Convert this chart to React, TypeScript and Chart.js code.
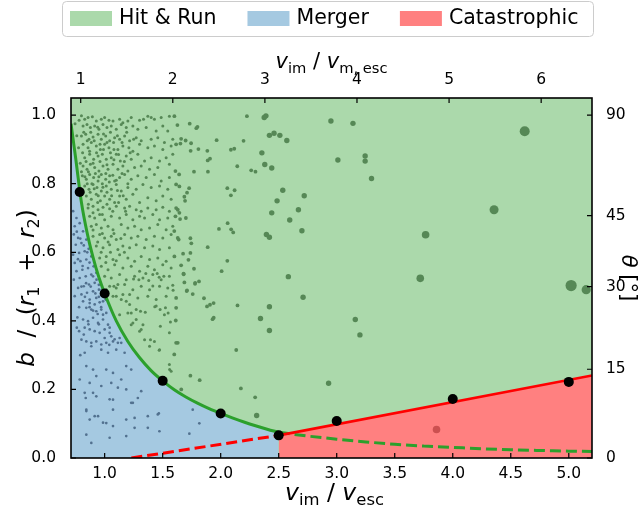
import { useEffect, useRef } from "react";
import { Chart, registerables } from "chart.js";
Chart.register(...registerables);

const FONT = "'DejaVu Sans', sans-serif";

// ---------------- data ----------------
const xLimits = [0.71, 5.2];
const yLimits = [0, 1.05];
const topAxisRatio = 1.26; // v_im / v_m,esc  per  v_im / v_esc

const bottomTicks = [1.0, 1.5, 2.0, 2.5, 3.0, 3.5, 4.0, 4.5, 5.0];
const topTicks = [1, 2, 3, 4, 5, 6];
const leftTicks = [0, 0.2, 0.4, 0.6, 0.8, 1.0];
const thetaTicksDeg = [0, 15, 30, 45, 90];

const legendLabels = ["Hit & Run", "Merger", "Catastrophic"];

// Hit & run / merger boundary (solid) and its continuation (dashed)
const boundaryX = [0.71, 0.75, 0.8, 0.85, 0.9, 0.95, 1.0, 1.1, 1.2, 1.3, 1.4, 1.5, 1.6, 1.7, 1.8, 1.9, 2.0, 2.1, 2.2, 2.3, 2.4, 2.5];
const boundaryY = [0.975, 0.875, 0.745, 0.655, 0.585, 0.527, 0.48, 0.40, 0.34, 0.293, 0.255, 0.225, 0.199, 0.178, 0.16, 0.144, 0.13, 0.117, 0.105, 0.094, 0.084, 0.075];
const boundaryExtX = [2.5, 2.75, 3.0, 3.25, 3.5, 3.75, 4.0, 4.25, 4.5, 4.75, 5.0, 5.2];
const boundaryExtY = [0.075, 0.064, 0.055, 0.047, 0.040, 0.035, 0.031, 0.027, 0.024, 0.022, 0.020, 0.019];

// Catastrophic boundary (solid) and its continuation (dashed)
const catLineX = [2.5, 5.2];
const catLineY = [0.066, 0.2405];
const catExtX = [1.23, 2.5];
const catExtY = [0.0, 0.066];

// simulation points on the boundaries
const simX = [0.785, 1.0, 1.5, 2.0, 2.5, 3.0, 4.0, 5.0];
const simY = [0.776, 0.48, 0.225, 0.13, 0.066, 0.108, 0.172, 0.222];

// scattered impacts
const mergerPoints = [
  [0.728, 0.72], [0.757, 0.70], [0.742, 0.676], [0.785, 0.685], [0.734, 0.652], [0.771, 0.642], [0.814, 0.661],
  [0.751, 0.622], [0.80, 0.627], [0.842, 0.637], [0.728, 0.593], [0.78, 0.598], [0.828, 0.603], [0.862, 0.61],
  [0.742, 0.569], [0.791, 0.574], [0.842, 0.579], [0.885, 0.588], [0.757, 0.545], [0.808, 0.549], [0.857, 0.554],
  [0.905, 0.559], [0.734, 0.52], [0.785, 0.525], [0.837, 0.53], [0.885, 0.535], [0.928, 0.54], [0.771, 0.496],
  [0.82, 0.501], [0.865, 0.506], [0.914, 0.511], [0.95, 0.505], [0.742, 0.472], [0.80, 0.477], [0.848, 0.482],
  [0.90, 0.486], [0.951, 0.491], [0.975, 0.49], [0.814, 0.457], [0.871, 0.462], [0.928, 0.467], [0.986, 0.457],
  [1.009, 0.462], [0.871, 0.452], [0.914, 0.448], [0.957, 0.454], [0.842, 0.438], [0.885, 0.433], [0.928, 0.428],
  [0.971, 0.433], [0.986, 0.418], [1.014, 0.423], [0.814, 0.404], [0.857, 0.399], [0.90, 0.409], [0.943, 0.394],
  [0.986, 0.404], [1.029, 0.389], [0.828, 0.38], [0.871, 0.375], [0.914, 0.37], [0.957, 0.365], [1.0, 0.375],
  [1.043, 0.38], [1.057, 0.355], [0.80, 0.345], [0.842, 0.34], [0.885, 0.336], [0.928, 0.34], [0.971, 0.331],
  [1.014, 0.336], [1.072, 0.34], [1.114, 0.336], [1.129, 0.35], [1.086, 0.346], [1.143, 0.336], [1.043, 0.365],
  [0.885, 0.326], [0.971, 0.316], [1.029, 0.307], [1.10, 0.316], [1.172, 0.307], [1.186, 0.268], [0.828, 0.307],
  [0.842, 0.268], [0.90, 0.258], [0.928, 0.239], [1.014, 0.258], [1.072, 0.248], [1.143, 0.229], [1.229, 0.258],
  [0.785, 0.229], [0.871, 0.219], [0.971, 0.21], [1.057, 0.219], [1.186, 0.20], [0.828, 0.19], [0.928, 0.18],
  [1.043, 0.171], [1.229, 0.161], [0.842, 0.141], [0.914, 0.122], [0.986, 0.103], [1.072, 0.141], [1.186, 0.112],
  [1.286, 0.175], [1.372, 0.122], [1.467, 0.13], [1.472, 0.078], [1.258, 0.088], [1.73, 0.071], [1.816, 0.101],
  [1.759, 0.141], [1.043, 0.059], [0.885, 0.044], [1.186, 0.064], [0.837, 0.175], [0.90, 0.19], [0.842, 0.137],
  [0.871, 0.112], [0.842, 0.068], [0.943, 0.122], [1.014, 0.102], [1.072, 0.093], [1.243, 0.161], [1.258, 0.117],
  [1.372, 0.088], [1.458, 0.127], [1.114, 0.205], [1.072, 0.17], [1.315, 0.195], [0.765, 0.41], [0.78, 0.37],
  [0.79, 0.30], [0.76, 0.66], [0.79, 0.64], [0.82, 0.62], [0.77, 0.58], [0.81, 0.56], [0.85, 0.6], [0.87, 0.57],
  [0.9, 0.53], [0.93, 0.52], [0.8, 0.5], [0.84, 0.51], [0.88, 0.5], [0.92, 0.48], [0.95, 0.47], [0.78, 0.44],
  [0.83, 0.47], [0.87, 0.44], [0.9, 0.43], [0.94, 0.42], [0.97, 0.44], [0.76, 0.38], [0.82, 0.36], [0.86, 0.39],
  [0.95, 0.39], [1.0, 0.35], [1.04, 0.33],
];

const hitRunDense = [
  [0.80, 0.998], [0.828, 0.988], [0.857, 0.993], [0.894, 0.995], [0.928, 0.983], [0.971, 0.988], [1.0, 0.993],
  [1.037, 0.985], [1.072, 0.983], [1.129, 0.988], [1.157, 0.978], [1.20, 0.983], [1.229, 0.993], [1.301, 0.985],
  [1.335, 0.988], [1.372, 0.997], [1.401, 0.993], [1.429, 0.988], [1.487, 0.993], [1.558, 0.997],
  [0.814, 0.968], [0.848, 0.973], [0.877, 0.964], [0.914, 0.968], [0.951, 0.959], [0.986, 0.973], [1.02, 0.964],
  [1.057, 0.968], [1.10, 0.959], [1.143, 0.973], [1.186, 0.964], [1.243, 0.968], [1.286, 0.959], [1.358, 0.964],
  [1.444, 0.954], [1.501, 0.968], [1.544, 0.954],
  [0.80, 0.939], [0.837, 0.944], [0.865, 0.93], [0.90, 0.936], [0.943, 0.944], [0.971, 0.93], [1.009, 0.939],
  [1.043, 0.925], [1.086, 0.934], [1.129, 0.93], [1.172, 0.939], [1.215, 0.925], [1.272, 0.934], [1.315, 0.925],
  [1.401, 0.93], [1.458, 0.934], [1.515, 0.92], [1.587, 0.93],
  [0.814, 0.915], [0.857, 0.905], [0.885, 0.92], [0.928, 0.91], [0.963, 0.90], [1.0, 0.915], [1.037, 0.905],
  [1.077, 0.92], [1.114, 0.90], [1.157, 0.91], [1.209, 0.905], [1.243, 0.895], [1.301, 0.915], [1.372, 0.905],
  [1.429, 0.91], [1.501, 0.90], [1.573, 0.91],
  [0.828, 0.876], [0.871, 0.886], [0.905, 0.871], [0.943, 0.881], [0.98, 0.886], [1.014, 0.871], [1.057, 0.876],
  [1.10, 0.886], [1.135, 0.866], [1.186, 0.881], [1.229, 0.871], [1.286, 0.886], [1.344, 0.866], [1.401, 0.876],
  [1.473, 0.866], [1.53, 0.876], [1.587, 0.886],
  [0.814, 0.852], [0.848, 0.842], [0.877, 0.857], [0.914, 0.847], [0.951, 0.837], [0.986, 0.852], [1.029, 0.842],
  [1.072, 0.857], [1.114, 0.842], [1.157, 0.852], [1.20, 0.837], [1.258, 0.847], [1.315, 0.852], [1.387, 0.842],
  [1.458, 0.847], [1.558, 0.857],
  [0.808, 0.823], [0.842, 0.813], [0.871, 0.827], [0.905, 0.818], [0.943, 0.808], [0.971, 0.827], [1.009, 0.813],
  [1.043, 0.823], [1.086, 0.808], [1.129, 0.818], [1.172, 0.827], [1.229, 0.813], [1.286, 0.823], [1.358, 0.818],
  [1.429, 0.827], [1.487, 0.808], [1.558, 0.818],
  [0.828, 0.793], [0.865, 0.784], [0.90, 0.798], [0.934, 0.789], [0.971, 0.779], [1.014, 0.793], [1.057, 0.784],
  [1.10, 0.798], [1.143, 0.779], [1.20, 0.789], [1.272, 0.784], [1.33, 0.798], [1.401, 0.789], [1.473, 0.793],
  [1.544, 0.784],
  [0.842, 0.764], [0.885, 0.755], [0.928, 0.769], [0.963, 0.75], [1.0, 0.764], [1.043, 0.755], [1.086, 0.745],
  [1.129, 0.764], [1.186, 0.755], [1.243, 0.769], [1.301, 0.745], [1.372, 0.759], [1.444, 0.75], [1.501, 0.764],
  [1.573, 0.755],
  [0.745, 0.975], [0.76, 0.94], [0.775, 0.905], [0.78, 0.985], [0.79, 0.86],
  [0.857, 0.729], [0.90, 0.734], [0.943, 0.724], [0.986, 0.731], [1.043, 0.727], [1.10, 0.734], [1.172, 0.729],
  [1.215, 0.734], [1.272, 0.724], [1.315, 0.72], [1.372, 0.729], [1.444, 0.724], [1.501, 0.731], [1.558, 0.72],
  [0.871, 0.705], [0.914, 0.70], [0.957, 0.71], [1.0, 0.695], [1.057, 0.705], [1.129, 0.70], [1.186, 0.71],
  [1.243, 0.695], [1.301, 0.705], [1.344, 0.70], [1.415, 0.71], [1.473, 0.695], [1.544, 0.70],
  [0.885, 0.676], [0.928, 0.681], [0.971, 0.671], [1.029, 0.676], [1.072, 0.666], [1.143, 0.681], [1.20, 0.671],
  [1.258, 0.676], [1.315, 0.666], [1.387, 0.671], [1.458, 0.681], [1.53, 0.666], [1.587, 0.676],
  [0.90, 0.647], [0.957, 0.652], [1.0, 0.642], [1.057, 0.647], [1.10, 0.637], [1.172, 0.652], [1.229, 0.642],
  [1.286, 0.647], [1.358, 0.637], [1.429, 0.647], [1.501, 0.642], [1.573, 0.652],
  [0.928, 0.618], [0.986, 0.613], [1.043, 0.622], [1.114, 0.608], [1.157, 0.618], [1.215, 0.613], [1.272, 0.622],
  [1.344, 0.613], [1.415, 0.618], [1.473, 0.608], [1.558, 0.613],
  [0.957, 0.583], [1.014, 0.588], [1.072, 0.579], [1.129, 0.593], [1.20, 0.583], [1.258, 0.574], [1.315, 0.588],
  [1.387, 0.579], [1.458, 0.583], [1.53, 0.574],
  [0.971, 0.559], [1.029, 0.549], [1.086, 0.564], [1.157, 0.554], [1.229, 0.559], [1.301, 0.545], [1.372, 0.559],
  [1.429, 0.549], [1.501, 0.564], [1.573, 0.554],
  [1.0, 0.53], [1.057, 0.525], [1.129, 0.535], [1.186, 0.52], [1.258, 0.53], [1.33, 0.525], [1.415, 0.535],
  [1.487, 0.52], [1.558, 0.53],
  [1.043, 0.501], [1.10, 0.496], [1.172, 0.506], [1.243, 0.491], [1.315, 0.501], [1.387, 0.491], [1.473, 0.501],
  [1.544, 0.496],
  [1.072, 0.472], [1.143, 0.462], [1.215, 0.477], [1.286, 0.467], [1.372, 0.472], [1.444, 0.462], [1.53, 0.472],
  [1.08, 0.501], [1.114, 0.506], [1.015, 0.491], [1.10, 0.472], [1.157, 0.477], [1.186, 0.457], [1.215, 0.448],
  [1.229, 0.423], [1.272, 0.404], [1.315, 0.375], [1.243, 0.394], [1.344, 0.345], [1.387, 0.326],
  [1.295, 0.52], [1.249, 0.522], [1.38, 0.518], [1.415, 0.502], [1.47, 0.527], [1.51, 0.53], [1.587, 0.504],
  [1.59, 0.489], [1.355, 0.538], [1.453, 0.538], [1.524, 0.438], [1.478, 0.433], [1.432, 0.441], [1.309, 0.428],
  [1.35, 0.425], [1.547, 0.423], [1.567, 0.397], [1.48, 0.384], [1.47, 0.314], [1.395, 0.345], [1.558, 0.273],
  [1.56, 0.258], [1.129, 0.418], [1.20, 0.423], [1.272, 0.433], [1.33, 0.389], [1.444, 0.443], [1.515, 0.418],
  [1.229, 0.389], [1.301, 0.37], [1.429, 0.34], [1.473, 0.316], [1.558, 0.365], [1.573, 0.253],
  [0.82, 0.95], [0.85, 0.925], [0.88, 0.95], [0.91, 0.925], [0.94, 0.965], [0.96, 0.915], [0.99, 0.945],
  [1.02, 0.92], [1.05, 0.95], [1.08, 0.9], [1.11, 0.94], [1.15, 0.92], [1.19, 0.95], [1.25, 0.93],
  [0.81, 0.89], [0.84, 0.865], [0.87, 0.895], [0.9, 0.86], [0.93, 0.89], [0.96, 0.865], [0.99, 0.9],
  [1.02, 0.855], [1.05, 0.89], [1.08, 0.87], [1.12, 0.885], [1.17, 0.865], [1.22, 0.89],
  [0.8, 0.835], [0.83, 0.82], [0.86, 0.835], [0.89, 0.80], [0.92, 0.83], [0.95, 0.82], [0.98, 0.80],
  [1.01, 0.83], [1.04, 0.805], [1.07, 0.825], [1.1, 0.81], [1.15, 0.83], [1.2, 0.8],
  [0.815, 0.775], [0.85, 0.8], [0.875, 0.775], [0.91, 0.785], [0.945, 0.765], [0.985, 0.79], [1.02, 0.775],
  [1.06, 0.765], [1.11, 0.78], [1.16, 0.765],
  [0.86, 0.74], [0.9, 0.715], [0.94, 0.745], [0.98, 0.71], [1.02, 0.74], [1.07, 0.72], [1.12, 0.745], [1.18, 0.72],
  [0.9, 0.665], [0.94, 0.63], [0.98, 0.655], [1.03, 0.63], [1.08, 0.655], [1.14, 0.64],
  [0.97, 0.6], [1.01, 0.57], [1.05, 0.6], [1.1, 0.575], [1.17, 0.6],
];

const hitRunMid = [
  [1.601, 0.997], [1.616, 0.915], [1.61, 0.837], [1.616, 0.798], [1.616, 0.729], [1.61, 0.705], [1.63, 0.642],
  [1.601, 0.588], [1.616, 0.467], [1.616, 0.438], [1.63, 0.336], [1.613, 0.401], [1.616, 0.336], [1.60, 0.302],
  [2.226, 0.997], [1.627, 0.971], [1.733, 0.975], [1.79, 0.962], [1.80, 0.966], [1.965, 0.927], [2.197, 0.925],
  [1.659, 0.931], [1.698, 0.926], [1.653, 0.917], [1.745, 0.918], [1.808, 0.901], [1.741, 0.896], [1.885, 0.896],
  [2.088, 0.899], [2.117, 0.902], [1.888, 0.868], [1.908, 0.873], [2.143, 0.851], [1.77, 0.835], [1.89, 0.835],
  [1.642, 0.827], [2.263, 0.839], [2.30, 0.835], [2.057, 0.787], [2.12, 0.781], [2.088, 0.766], [1.644, 0.792],
  [1.728, 0.787], [1.71, 0.774], [1.687, 0.762], [1.693, 0.75], [1.63, 0.724], [1.644, 0.715], [1.65, 0.697],
  [1.70, 0.70], [2.06, 0.685], [1.985, 0.668], [2.09, 0.667], [2.108, 0.658], [1.60, 0.662], [1.638, 0.637],
  [1.739, 0.641], [1.747, 0.626], [1.888, 0.615], [1.676, 0.596], [1.739, 0.598], [1.722, 0.578], [2.057, 0.575],
  [2.008, 0.545], [1.659, 0.562], [1.681, 0.536], [1.77, 0.552], [1.813, 0.515], [1.779, 0.508], [1.707, 0.487],
  [1.759, 0.478], [1.856, 0.466], [1.939, 0.452], [1.908, 0.447], [1.882, 0.442], [2.145, 0.445], [1.687, 0.512],
  [1.71, 0.489], [1.78, 0.511], [1.68, 0.538], [1.94, 0.409], [1.93, 0.405], [2.134, 0.315], [2.174, 0.203],
  [2.297, 0.177], [1.819, 0.227], [1.739, 0.24], [1.66, 0.2],
];

const hitRunSparse = [
  [2.375, 0.993], [2.39, 0.998], [2.355, 0.89], [2.38, 0.856], [2.394, 0.652], [2.42, 0.644], [2.42, 0.441],
  [2.42, 0.372], [2.343, 0.407], [2.42, 0.941], [2.46, 0.947], [2.51, 0.941], [2.57, 0.926], [2.44, 0.846],
  [2.535, 0.781], [2.486, 0.75], [2.72, 0.765], [2.44, 0.715], [2.67, 0.724], [2.595, 0.694], [2.70, 0.663],
  [2.583, 0.529], [2.71, 0.469], [3.16, 0.404], [3.20, 0.359], [2.93, 0.218], [2.95, 0.983], [3.14, 0.976],
  [3.01, 0.869], [3.245, 0.881], [3.245, 0.866], [3.30, 0.815], [2.31, 0.124],
];

const hitRunLarge = [[4.62, 0.953], [4.356, 0.724], [3.766, 0.651], [3.72, 0.524], [5.02, 0.503], [5.15, 0.491]];
const hitRunLargeRadius = [5, 4.5, 3.8, 3.8, 5.6, 4.6];

const catastrophicPoints = [[3.86, 0.083]];

// ---------------- styles ----------------
const HR_BG = "#abd9ab";
const MERGER_BG = "#a5c9e1";
const CAT_BG = "#ff8080";
const GREEN_LINE = "#2ca02c";
const RED_LINE = "#ff0000";
const HR_DOT = "#568856";
const MERGER_DOT = "#52718f";
const CAT_DOT = "#cc5050";

const xy = (xs: number[], ys: number[]) => xs.map((x, i) => ({ x, y: ys[i] }));
const pts = (arr: number[][]) => arr.map(([x, y]) => ({ x, y }));

type Seg = { t: string; it?: boolean; sub?: boolean };

function drawMath(ctx: CanvasRenderingContext2D, segs: Seg[], size: number, x: number, y: number, rot: number) {
  ctx.save();
  ctx.translate(x, y);
  ctx.rotate(rot);
  ctx.fillStyle = "#000";
  ctx.textBaseline = "alphabetic";
  ctx.textAlign = "left";
  const fontOf = (s: Seg) => `${s.it ? "italic " : ""}${s.sub ? size * 0.7 : size}px ${FONT}`;
  const widths = segs.map((s) => {
    ctx.font = fontOf(s);
    return ctx.measureText(s.t).width;
  });
  const total = widths.reduce((a, b) => a + b, 0);
  let cx = -total / 2;
  segs.forEach((s, i) => {
    ctx.font = fontOf(s);
    ctx.fillText(s.t, cx, s.sub ? size * 0.22 : 0);
    cx += widths[i];
  });
  ctx.restore();
}

const overlayPlugin = {
  id: "overlay",
  beforeDatasetsDraw(chart: any) {
    const { ctx, chartArea: a } = chart;
    ctx.save();
    ctx.fillStyle = HR_BG;
    ctx.fillRect(a.left, a.top, a.right - a.left, a.bottom - a.top);
    ctx.restore();
  },
  afterDatasetsDraw(chart: any) {
    const { ctx, chartArea: a, scales } = chart;
    ctx.save();
    ctx.strokeStyle = "#000";
    ctx.lineWidth = 1.2;
    const tl = 5;
    ctx.beginPath();
    scales.x.ticks.forEach((t: any) => {
      const p = scales.x.getPixelForValue(t.value);
      ctx.moveTo(p, a.bottom);
      ctx.lineTo(p, a.bottom - tl);
    });
    scales.x2.ticks.forEach((t: any) => {
      const p = scales.x2.getPixelForValue(t.value);
      ctx.moveTo(p, a.top);
      ctx.lineTo(p, a.top + tl);
    });
    scales.y.ticks.forEach((t: any) => {
      const p = scales.y.getPixelForValue(t.value);
      ctx.moveTo(a.left, p);
      ctx.lineTo(a.left + tl, p);
    });
    scales.y2.ticks.forEach((t: any) => {
      const p = scales.y2.getPixelForValue(t.value);
      ctx.moveTo(a.right, p);
      ctx.lineTo(a.right - tl, p);
    });
    ctx.stroke();
    ctx.lineWidth = 1.6;
    ctx.strokeRect(a.left, a.top, a.right - a.left, a.bottom - a.top);
    ctx.restore();
  },
  afterDraw(chart: any) {
    const { ctx, chartArea: a } = chart;
    const cx = (a.left + a.right) / 2;
    const cy = (a.top + a.bottom) / 2;
    drawMath(ctx, [{ t: "v", it: true }, { t: "im", sub: true }, { t: " / " }, { t: "v", it: true }, { t: "esc", sub: true }], 23.5, cx + 3, 500, 0);
    drawMath(ctx, [{ t: "v", it: true }, { t: "im", sub: true }, { t: " / " }, { t: "v", it: true }, { t: "m, esc", sub: true }], 21, cx, 68, 0);
    drawMath(
      ctx,
      [{ t: "b", it: true }, { t: "  /  (" }, { t: "r", it: true }, { t: "1", sub: true }, { t: "  +  " }, { t: "r", it: true }, { t: "2", sub: true }, { t: ")" }],
      23, 34, cy + 10, -Math.PI / 2
    );
    drawMath(ctx, [{ t: "θ", it: true }, { t: " [°]" }], 21, 622, cy, Math.PI / 2);

    // legend
    ctx.save();
    ctx.beginPath();
    (ctx as any).roundRect(62.5, 1.5, 531, 35, 4);
    ctx.fillStyle = "rgba(255,255,255,0.8)";
    ctx.fill();
    ctx.strokeStyle = "#cccccc";
    ctx.lineWidth = 1;
    ctx.stroke();
    const colors = [HR_BG, MERGER_BG, CAT_BG];
    ctx.font = `20.5px ${FONT}`;
    ctx.textBaseline = "middle";
    ctx.textAlign = "left";
    let sx = 70;
    legendLabels.forEach((lab, i) => {
      ctx.fillStyle = colors[i];
      ctx.fillRect(sx, 11, 42, 15);
      ctx.fillStyle = "#000";
      ctx.fillText(lab, sx + 49, 19);
      sx = sx + 49 + ctx.measureText(lab).width + 31;
    });
    ctx.restore();
  },
};

export default function App() {
  const ref = useRef<HTMLCanvasElement | null>(null);
  useEffect(() => {
    if (!ref.current) return;
    const tickFont = { family: FONT, size: 15.5 };
    const chart = new Chart(ref.current, {
      type: "scatter",
      data: {
        datasets: [
          { type: "line", data: xy(boundaryX, boundaryY), borderColor: "transparent", borderWidth: 0, pointRadius: 0, fill: "origin", backgroundColor: MERGER_BG, cubicInterpolationMode: "monotone", order: 20 } as any,
          { type: "line", data: xy(catLineX, catLineY), borderColor: "transparent", borderWidth: 0, pointRadius: 0, fill: "origin", backgroundColor: CAT_BG, order: 19 } as any,
          { data: pts(mergerPoints), pointRadius: 1.35, pointBackgroundColor: MERGER_DOT, pointBorderWidth: 0, order: 15 },
          { data: pts(hitRunDense), pointRadius: 1.5, pointBackgroundColor: HR_DOT, pointBorderWidth: 0, order: 14 },
          { data: pts(hitRunMid), pointRadius: 1.9, pointBackgroundColor: HR_DOT, pointBorderWidth: 0, order: 14 },
          { data: pts(hitRunSparse), pointRadius: 2.7, pointBackgroundColor: HR_DOT, pointBorderWidth: 0, order: 14 },
          { data: pts(hitRunLarge), pointRadius: hitRunLargeRadius, pointBackgroundColor: HR_DOT, pointBorderWidth: 0, order: 14 },
          { data: pts(catastrophicPoints), pointRadius: 3.8, pointBackgroundColor: CAT_DOT, pointBorderWidth: 0, order: 14 },
          { type: "line", data: xy(boundaryExtX, boundaryExtY), borderColor: GREEN_LINE, borderWidth: 3, borderDash: [11, 5], pointRadius: 0, fill: false, cubicInterpolationMode: "monotone", order: 6 } as any,
          { type: "line", data: xy(catExtX, catExtY), borderColor: RED_LINE, borderWidth: 3, borderDash: [11, 5], pointRadius: 0, fill: false, order: 6 } as any,
          { type: "line", data: xy(boundaryX, boundaryY), borderColor: GREEN_LINE, borderWidth: 3, pointRadius: 0, fill: false, cubicInterpolationMode: "monotone", order: 5 } as any,
          { type: "line", data: xy(catLineX, catLineY), borderColor: RED_LINE, borderWidth: 2.6, pointRadius: 0, fill: false, order: 5 } as any,
          { data: xy(simX, simY), pointRadius: 5, pointBackgroundColor: "#000", pointBorderWidth: 0, order: 1 },
        ],
      },
      options: {
        animation: false,
        responsive: false,
        devicePixelRatio: 1,
        layout: { padding: 0 },
        plugins: { legend: { display: false }, tooltip: { enabled: false }, title: { display: false } },
        scales: {
          x: {
            type: "linear", position: "bottom", min: xLimits[0], max: xLimits[1],
            grid: { display: false }, border: { display: false },
            afterBuildTicks: (s: any) => { s.ticks = bottomTicks.map((v) => ({ value: v })); },
            afterFit: (s: any) => { s.height = 54; },
            ticks: { font: tickFont, color: "#000", padding: -1, autoSkip: false, maxRotation: 0, callback: (v: any) => Number(v).toFixed(1) },
          },
          x2: {
            type: "linear", position: "top", min: xLimits[0] * topAxisRatio, max: xLimits[1] * topAxisRatio,
            grid: { display: false }, border: { display: false },
            afterBuildTicks: (s: any) => { s.ticks = topTicks.map((v) => ({ value: v })); },
            afterFit: (s: any) => { s.height = 98; },
            ticks: { font: tickFont, color: "#000", padding: 1, autoSkip: false, maxRotation: 0, callback: (v: any) => String(v) },
          },
          y: {
            type: "linear", position: "left", min: yLimits[0], max: yLimits[1],
            grid: { display: false }, border: { display: false },
            afterBuildTicks: (s: any) => { s.ticks = leftTicks.map((v) => ({ value: v })); },
            afterFit: (s: any) => { s.width = 71; },
            ticks: { font: tickFont, color: "#000", padding: 7, autoSkip: false, callback: (v: any) => Number(v).toFixed(1) },
          },
          y2: {
            type: "linear", position: "right", min: yLimits[0], max: yLimits[1],
            grid: { display: false }, border: { display: false },
            afterBuildTicks: (s: any) => { s.ticks = thetaTicksDeg.map((d) => ({ value: Math.sin((d * Math.PI) / 180) })); },
            afterFit: (s: any) => { s.width = 52; },
            ticks: { font: tickFont, color: "#000", padding: 6, autoSkip: false, callback: (_v: any, i: number) => String(thetaTicksDeg[i]) },
          },
        },
      },
      plugins: [overlayPlugin],
    });
    return () => chart.destroy();
  }, []);
  return (
    <div style={{ position: "fixed", left: 0, top: 0, width: 644, height: 512, background: "#fff" }}>
      <canvas ref={ref} width={644} height={512} style={{ display: "block", width: 644, height: 512 }} />
    </div>
  );
}
